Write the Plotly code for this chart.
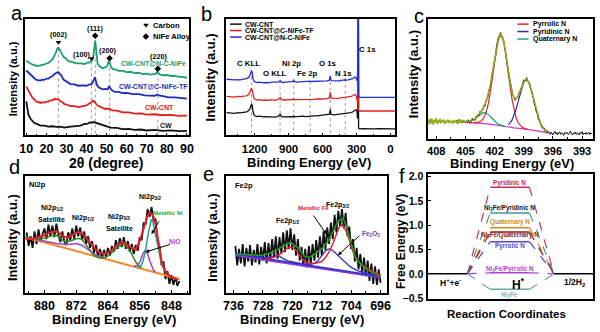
import plotly.graph_objects as go

W, H = 600, 332
FB = "Liberation Sans, Arial, sans-serif"

# ======================= DATA =======================
# (a) XRD, 2theta (deg) vs offset intensity (a.u.)
a_nc_x = [10,11,12,13,14,15,16,17,18,19,20,21,22,23,24,24.7,25.3,25.8,26.3,26.8,27.5,28.5,29.5,31,33,35,37,39,40.5,41.5,42.3,42.8,43.3,43.7,44,44.3,44.6,45,45.5,46.5,48,49.5,50.3,50.8,51.1,51.5,52,53,54.5,56,58,60,62,64,66,68,70,72,73.5,74.5,75.2,75.8,76.5,78,80,82,84,86,88,90]
a_nc_y = [230,226,223,218,217,214,215,215,218,218,222,223,229,234,246,254,266,270,268,261,254,242,238,229,226,222,222,220,224,224,230,232,241,260,285,292,277,240,220,213,207,210,214,224,229,225,214,204,203,199,199,195,196,192,193,189,190,187,188,190,196,192,188,185,186,183,183,180,180,177]
a_tf_x = [10,11,12,13,14,15,16,17,18,19,20,21,22,23,24,25,25.8,26.5,27.5,28.5,30,32,34,36,38,40,41.5,42.5,43.3,43.8,44.2,44.6,45.2,46,48,49.5,50.5,51,51.4,51.8,52.5,54,56,58,60,63,66,69,72,74,75.2,76,78,81,84,87,90]
a_tf_y = [200,194,188,179,176,171,171,169,172,171,175,175,180,182,189,192,195,191,184,172,166,158,157,153,154,153,157,158,166,175,179,169,155,148,142,143,142,149,151,145,140,134,134,130,131,127,127,123,123,122,126,123,121,117,117,114,113]
a_cnt_x = [10,11,12,13,14,15,16,17,18,19,20,21,22,23,24,25,26,27,28,29,30,32,34,36,38,40,41.5,42.5,43.2,43.8,44.5,45.5,47,49,51,53,55,58,61,64,67,70,74,78,82,86,90]
a_cnt_y = [150,139,128,116,111,104,103,100,102,101,104,104,108,108,112,111,111,105,102,96,95,90,90,87,90,92,99,102,107,105,99,92,88,82,82,77,76,71,71,67,68,64,65,62,63,60,61]
a_cw_x = [10,10.5,11,12,13,14,15,17,19,21,23,25,27,29,31,33,35,37,39,40.5,41.5,42.5,43.5,44.5,46,48,50,52,55,58,61,64,67,70,74,78,82,86,90]
a_cw_y = [105,80,65,52,44,38,36,30,30,27,28,26,27,24,26,27,30,30,35,36,40,39,41,39,37,31,29,24,23,19,20,17,18,15,17,14,15,13,14]
a_peak_pos = [26, 42.5, 44.3, 51.5, 75.5]
a_peak_top = [268, 228, 292, 228, 196]
a_carbon_x = [26, 42.5]
a_carbon_y = [287, 237]
a_alloy_x = [44.3, 51.5, 75.5]
a_alloy_y = [307, 238, 205]
a_hkl = ["(002)", "(100)", "(111)", "(200)", "(220)"]
a_hkl_x = [26, 37.7, 44.3, 50.5, 75.6]
a_hkl_y = [310, 248, 330, 261, 243]
a_names = ["CW-CNT@N-C-NiFe", "CW-CNT@C-NiFe-TF", "CW-CNT", "CW"]
a_name_x = [73.2, 73.5, 76.1, 79.4]
a_name_y = [220, 150, 85, 30]

# (b) XPS survey, binding energy (eV)
b_be = [1450,1425,1400,1375,1350,1325,1300,1270,1250,1235,1228,1222,1215,1205,1190,1175,1150,1125,1100,1075,1050,1025,1000,985,975,965,950,925,900,875,860,855,850,825,800,775,750,725,710,700,675,650,625,600,575,560,540,532,525,500,475,450,425,405,400,395,375,350,335,315,305,296,293,289,286.5,284.5,282,275,250,200,150,100,50,0,-45]
b_cnt = [70,69,70,68,70,69,71,72,77,87,97,93,75,63,59,58,59,57,58,57,58,56,58,60,65,59,57,58,57,58,57,60,57,58,57,59,58,59,60,59,60,60,61,61,62,62,65,80,65,63,64,64,65,66,68,66,68,70,72,77,79,74,52,62,500,500,22,20,21,20,20,21,20,20,20]
b_tf = [120,119,120,118,120,119,121,122,127,137,145,140,122,113,110,109,110,108,109,108,110,108,110,112,117,111,109,110,109,110,110,113,110,110,109,110,110,111,111,111,111,112,111,112,113,113,116,133,115,114,114,115,116,117,119,117,118,120,122,126,124,110,105,118,500,500,78,75,75,76,75,75,76,75,75]
b_nc = [173,172,173,171,172,171,173,175,180,190,200,195,175,167,164,163,164,162,163,162,164,163,164,165,169,165,163,164,164,164,166,172,166,164,165,164,165,166,167,166,166,167,166,167,168,168,170,183,169,168,169,168,170,170,174,170,171,173,175,180,177,168,172,230,500,500,120,117,117,118,117,117,118,117,117]
b_names = ["CW-CNT", "CW-CNT@C-NiFe-TF", "CW-CNT@N-C-NiFe"]
b_line_pos = [1228, 975, 855, 710, 532, 400]
b_line_top = [200, 169, 172, 167, 183, 174]
b_peaks = ["C KLL", "O KLL", "Ni 2p", "Fe 2p", "O 1s", "N 1s", "C 1s"]
b_peak_x = [1258, 1021, 873, 732, 549, 419, 202]
b_peak_y = [220, 190, 220, 190, 220, 190, 265]

# (c) N 1s high-resolution spectrum (0.1 eV steps)
c_fit_left = [58,44,63,47,60,42,57,50,64,45,56,49,61,46,55,52,58,45,54,50,59,47,56,51,53,46,57,50,55,48,58,51,54,47,56,52,57,49,53]
c_envelope = [50.8,51.0,51.5,52.1,52.9,54.0,55.1,56.6,58.4,61.7,64.5,67.4,70.8,74.5,78.4,82.8,87.4,92.6,98.4,104.9,112.3,121.0,131.2,143.1,156.7,172.2,189.3,207.8,227.3,246.6,265.4,282.8,297.5,309.6,317.4,320.9,319.7,313.7,305.4,290.0,273.2,254.0,233.5,212.9,192.6,173.9,157.5,144.0,133.5,126.4,122.9,122.4,125.0,130.2,136.9,144.7,153.6,162.2,169.4,176.1,179.9,182.1,182.4,179.6,174.0,166.6,157.7,146.8,135.4,123.0,109.4,97.3,85.2,74.6,64.5,55.4,47.8,41.2,36.1,31.6,28.1,25.4,23.2,21.4,20.0]
c_raw = [51,57,46,55,59,48,56,50,57,52,49,
         55,48,58,47,55,50,62,55,61,56,70,66,75,70,84,80,89,89,103,99,115,122,127,149,155,167,193,210,224,252,
         259,286,296,314,313,327,318,309,308,294,270,256,228,218,192,177,154,150,131,128,118,126,126,127,142,141,156,156,172,181,
         178,178,188,177,175,171,153,150,133,128,105,99,82,81,60,56,52,39,32,35,33,22,25,16,24,
         18,13,20,15,11,17,22,14,19,12,16,21,13,18,15,10,19,14,20,16,12,18,23,15,11,17,14,20,13,18,16,11,19,15,21,12,17,14,19,13,16,20,12,17,15,18]
c_fit = c_fit_left + c_envelope
c_fit_be = [round(408.8 - 0.1 * i, 1) for i in range(len(c_fit))]
c_raw_be = [round(406.0 - 0.1 * i, 1) for i in range(len(c_raw))]
c_bg_be = [405.5, 405, 404, 403, 402, 401, 400, 399, 398, 397, 396.5]
c_bg = [50.5, 50, 49, 46, 42, 37, 33, 30, 26, 20, 18]
c_pyrrolic_be = [404.2,404.0,403.8,403.6,403.4,403.2,403.0,402.8,402.6,402.4,402.2,402.0,401.8,401.6,401.4,401.2,401.0,400.8,400.6,400.4,400.2,400.0,399.8,399.6,399.4,399.2,399.0,398.8,398.6]
c_pyrrolic = [49.3,49.4,49.7,50.9,53.9,60.0,70.9,88.4,114.2,148.6,190.1,234.3,275.0,305.0,318.4,312.5,288.0,250.2,205.4,160.1,120.2,88.4,65.4,50.2,40.7,35.2,32.1,30.1,28.7]
c_pyridinic_be = [400.6,400.4,400.2,400.0,399.8,399.6,399.4,399.2,399.0,398.8,398.6,398.4,398.2,398.0,397.8,397.6,397.4,397.2,397.0,396.8,396.6]
c_pyridinic = [42.9,48.4,57.6,71.0,89.4,111.8,135.2,157.6,174.0,181.2,179.4,166.6,146.8,123.0,97.3,74.6,55.4,41.2,31.6,25.4,21.4]
c_quaternary_be = [404.6,404.4,404.2,404.0,403.8,403.6,403.4,403.2,403.0,402.8,402.6,402.4,402.2,402.0,401.8,401.6,401.4,401.2,401.0]
c_quaternary = [52.1,54.0,57.0,61.3,66.1,71.4,76.1,79.2,80.0,77.8,73.3,67.2,60.5,54.3,48.8,44.6,41.5,39.2,37.5]
c_names = ["Pyrrolic N", "Pyridinic N", "Quaternary N"]

# (d) Ni 2p (0.5 eV steps from 884.5 eV)
d_raw = [62,48,58,46,63,50,65,52,60,66,55,70,58,69,57,71,60,52,63,53,49,62,54,66,55,69,58,67,54,63,50,58,46,53,41,49,36,45,35,44,37,46,38,48,42,54,45,56,47,57,45,53,42,50,40,49,43,57,54,72,70,86,78,88,74,76,52,48,28,32,14,22,9,18,8,16,7,12]
d_raw_be = [round(884.5 - 0.5 * i, 1) for i in range(len(d_raw))]
d_env_be = [884.8,883,881.5,880,878.5,877.5,876.5,875,874,873,872,871,870,869,868,867,866,865,864,863,862,861,860.3,859.5,858.5,857.5,857,856.3,855.6,855,854.5,854,853.5,853,852.5,852,851.5,851,850.5,850,849.5,849,848,847,846.3]
d_env = [55,55.5,57,59,62,63,62,57.5,57,59,61.5,62,59,54,49,44,41,40,41,44,48,51,52,50,47,45,45,50,58,66,74,79,82,81,78,70,58,43,33,26,22,19,16,14,13]
d_bg_be = [884.8, 846]
d_bg = [57, 14]
d_nio1_be = [884.8,883,880,877,874,872,870.5,869.3,868,867,866,865]
d_nio1 = [57,55.5,53,50.5,49.5,50.5,48.5,45,40.5,38.5,37,35.8]
d_nio2_be = [857.5,856.5,855.8,855.2,854.6,854,853.5,853,852.5,852]
d_nio2 = [26.8,28,33,40,43.5,40,33,27.5,23,21]
d_sat_be = [884.8,882,880,878.5,877.5,876.5,875.5,874.5,873.5,872.5,871.5,870.5,869.5,868.5,867.5,866.5,865.5,864.5,863.5,862.5,861.5,860.5,860,859.3,858.5,857.8,857,856.3,855.5]
d_sat = [57,55,56,58.5,59.5,58,54,52,53.5,55,56,54.5,49,42.5,38,36,35.5,36.5,39,43,47,49.5,49.5,47.5,43.5,38,31.5,28,25.5]
d_ni_be = [856.5,855.8,855.2,854.6,854,853.5,853.1,852.7,852.2,851.7,851.2,850.9,850.5,850,849.2,848.4,847.5]
d_ni = [26,27,32,42,57,69,75,73,64,55,44,37,30,25,20,17,16]

# (e) Fe 2p (0.5 eV steps from 735.5 eV)
e_raw = [48,28,45,30,50,27,46,32,49,28,44,31,50,29,47,33,52,30,51,34,55,36,58,35,57,40,62,42,64,45,66,44,60,38,55,33,47,27,45,26,48,29,50,33,54,36,58,38,63,44,67,50,72,55,80,62,84,68,86,66,82,58,68,45,55,32,46,24,40,20,36,17,33,12,30,9,27,8,24,10]
e_raw_be = [round(735.5 - 0.5 * i, 1) for i in range(len(e_raw))]
e_env_be = [735.6,732,728.9,726.5,724.5,722.5,720.5,718.5,716.5,715,713.8,712,710.2,709,707.6,706.2,705.3,704.5,703.6,702.7,701,699.6,698,696]
e_env = [40,39,38.3,40,43.3,48,51.7,46,36.7,37,40,45,53.3,62,73.3,76.7,68,56.7,45,35,28,23.3,20,16.7]
e_fe_be = [727.5,726,724.5,723,722,721,720.3,719.5,718.5,717.5,716.5,715,713.5,712,711,710,709,708,707.3,706.5,705.7,705,704.3,703.5,702.7,701.8,700.5,699,697.5,696]
e_fe = [34.5,35,37,40.5,44,46.5,47,45.5,41,35.5,31.5,30,30.5,32,36,42,50,60,67,70,66,60,51,42,35,31,27,23.5,20.5,18]
e_ox_be = [735.6,730,727,725.5,724.5,723.5,722.5,721,719,717,715,714,713,712,711,710.2,709.3,708.5,707.5,706.5,705.5,704.5,703.5,702.2,700,698,696]
e_ox = [40,37,36,37,38.3,37.5,35,32.5,31,29.5,29,30,33,38.5,43,45,44,41.5,38,34.5,30.5,27.5,25,22.5,20.5,18,16.5]
e_bg_be = [735.6, 696]
e_bg1 = [40, 16.5]
e_bg2 = [38.5, 15.5]

# (f) Free-energy diagram (eV)
f_sites = ["Pyridinic N", "Ni<sub>3</sub>Fe/Pyridinic N", "Quaternary N", "Ni<sub>3</sub>Fe/Quaternary N",
           "Pyrrolic N", "Ni<sub>3</sub>Fe/Pyrrolic N", "Ni<sub>3</sub>Fe"]
f_dG = [1.78, 1.25, 0.95, 0.86, 0.66, 0.02, -0.32]

# ======================= STYLE =======================
f_line_col = ["#c8325a", "#3d9a9a", "#d08a2c", "#8b2214", "#5a44d0", "#b040d0", "#6aa8a8"]
f_text_col = ["#d02050", "#111111", "#d08a2c", "#8b2214", "#5a44d0", "#b040d0", "#7ab8b8"]
f_label_dy = [0.10, 0.11, 0.11, -0.07, -0.09, 0.07, -0.125]
f_x = [0, 2.38, 3.76, 6.14, 7.62, 10]   # reaction-coordinate geometry

fig = go.Figure()


def add_line(xs, ys, color, width, ax, dash=None):
    fig.add_trace(go.Scatter(x=xs, y=ys, mode="lines", xaxis="x" + ax, yaxis="y" + ax,
                             line=dict(color=color, width=width, dash=dash),
                             showlegend=False, hoverinfo="skip"))


def vlines(pos, top, ax):
    xs, ys = [], []
    for p, t in zip(pos, top):
        xs += [p, p, None]
        ys += [t, 0, None]
    add_line(xs, ys, "#9a9a9a", 1, ax, "dot")


# ---- (a)
vlines(a_peak_pos, a_peak_top, "")
add_line(a_cw_x, a_cw_y, "#111111", 1.8, "")
add_line(a_cnt_x, a_cnt_y, "#e3211c", 1.8, "")
add_line(a_tf_x, a_tf_y, "#1f2bbf", 1.8, "")
add_line(a_nc_x, a_nc_y, "#1f9e6e", 1.8, "")
fig.add_trace(go.Scatter(x=a_carbon_x + [69.6], y=a_carbon_y + [340], mode="markers", xaxis="x", yaxis="y",
                         marker=dict(symbol="triangle-down", size=5, color="black"), showlegend=False, hoverinfo="skip"))
fig.add_trace(go.Scatter(x=a_alloy_x + [69.6], y=a_alloy_y + [305], mode="markers", xaxis="x", yaxis="y",
                         marker=dict(symbol="diamond", size=5, color="black"), showlegend=False, hoverinfo="skip"))

# ---- (b)
vlines(b_line_pos, b_line_top, "2")
add_line(b_be, b_cnt, "#111111", 1.3, "2")
add_line(b_be, b_tf, "#e3211c", 1.3, "2")
add_line(b_be, b_nc, "#2330d0", 1.3, "2")

# ---- (c)
add_line(c_bg_be, c_bg, "#c43cc4", 1.2, "3")
add_line(c_quaternary_be, c_quaternary, "#1fa37a", 1.2, "3")
add_line(c_pyrrolic_be, c_pyrrolic, "#e8202a", 1.2, "3")
add_line(c_pyridinic_be, c_pyridinic, "#2b2bb0", 1.2, "3")
add_line(c_raw_be, c_raw, "#111111", 1, "3")
add_line(c_fit_be, c_fit, "#8fae1f", 1.5, "3")

# ---- (d)
add_line(d_raw_be, d_raw, "#111111", 1.8, "4")
add_line(d_bg_be, d_bg, "#f08a24", 2, "4")
add_line(d_nio1_be, d_nio1, "#a040d0", 1.5, "4")
add_line(d_nio2_be, d_nio2, "#a040d0", 1.5, "4")
add_line(d_sat_be, d_sat, "#2e8b22", 1.5, "4")
add_line(d_ni_be, d_ni, "#1aa38a", 1.5, "4")
add_line(d_env_be, d_env, "#e8202a", 2, "4")

# ---- (e)
add_line(e_raw_be, e_raw, "#111111", 1.8, "5")
add_line(e_bg_be, e_bg2, "#8a3cd0", 2, "5")
add_line(e_bg_be, e_bg1, "#3030c8", 1.5, "5")
add_line(e_ox_be, e_ox, "#3030c8", 1.3, "5")
add_line(e_fe_be, e_fe, "#e0203a", 1.5, "5")
add_line(e_env_be, e_env, "#22a022", 1.5, "5")

# ---- (f)
add_line([f_x[0], f_x[1]], [0, 0], "black", 1.5, "6")
add_line([f_x[4], f_x[5]], [0, 0], "black", 1.5, "6")
for g, col in zip(f_dG, f_line_col):
    add_line([f_x[1], f_x[2]], [0, g], col, 1.2, "6", "dash")
    add_line([f_x[3], f_x[4]], [g, 0], col, 1.2, "6", "dash")
    add_line([f_x[2], f_x[3]], [g, g], col, 1.5, "6")

# ======================= LAYOUT =======================


def tf(size):
    return dict(family=FB, size=size, color="black", weight="bold")


def xa(l, r, rng, tick0, dtick, mdtick, anchor, fsize=13, show=True, standoff=1):
    d = dict(domain=[l / W, r / W], range=rng, anchor=anchor, showline=True, mirror=True,
             linecolor="black", linewidth=1.5, showgrid=False, zeroline=False,
             ticks="inside" if show else "", ticklen=3, tickwidth=1, tickcolor="black",
             showticklabels=show, tickfont=tf(fsize), ticklabelstandoff=standoff)
    if show:
        d.update(tick0=tick0, dtick=dtick,
                 minor=dict(ticks="inside", ticklen=2, tickwidth=1, tickcolor="black", dtick=mdtick))
    return d


def ya(t, b, rng, anchor, show=False, fsize=11):
    d = dict(domain=[1 - b / H, 1 - t / H], range=rng, anchor=anchor, showline=True, mirror=True,
             linecolor="black", linewidth=1.5, showgrid=False, zeroline=False,
             ticks="inside" if show else "", ticklen=3, tickwidth=1, tickcolor="black",
             showticklabels=show, tickfont=tf(fsize), ticklabelstandoff=1)
    if show:
        d.update(tick0=0, dtick=0.5, tickformat=".1f")
    return d


ann = []


def T(text, x, y, size, color="black", xref="paper", yref="paper", xanchor="center",
      yanchor="middle", bold=True, angle=0):
    if xref == "paper":
        x = x / W
    if yref == "paper":
        y = 1 - y / H
    ann.append(dict(text=text, x=x, y=y, xref=xref, yref=yref, xanchor=xanchor, yanchor=yanchor,
                    showarrow=False, textangle=angle,
                    font=dict(family=FB, size=size, color=color, weight="bold" if bold else "normal")))


def arrow(x0, y0, x1, y1, ax):
    ann.append(dict(text="", x=x1, y=y1, ax=x0, ay=y0, xref="x" + ax, yref="y" + ax,
                    axref="x" + ax, ayref="y" + ax, showarrow=True, arrowhead=2, arrowsize=0.8,
                    arrowwidth=1, arrowcolor="black"))


# panel letters
for lab, x, y in [("a", 3, 9), ("b", 197, 10), ("c", 414, 12.5), ("d", 1, 168), ("e", 199, 174.5), ("f", 398, 177)]:
    T(lab, x, y, 20, xanchor="left", bold=False)

# axis titles
T("2\u03b8 (degree)", 102, 163, 14)
T("Intensity (a.u.)", 6.7, 76.7, 11, angle=-90)
T("Binding Energy (eV)", 308.3, 162.5, 13)
T("Intensity (a.u.)", 208.3, 75, 13, angle=-90)
T("Binding Energy (eV)", 515, 163.5, 13)
T("Intensity (a.u.)", 415, 71.7, 13, angle=-90)
T("Binding Energy (eV)", 110, 324, 13)
T("Intensity (a.u.)", 6.7, 240, 12.8, angle=-90)
T("Binding Energy (eV)", 301.7, 324, 13)
T("Intensity (a.u.)", 210, 240, 13, angle=-90)
T("Reaction Coordinates", 510, 318.3, 11.5)
T("Free Energy (eV)", 403, 244, 12, angle=-90)

# (a) labels
for t, x, y in zip(a_hkl, a_hkl_x, a_hkl_y):
    T(t, x, y, 7.2, xref="x", yref="y")
for t, x, y, c in zip(a_names, a_name_x, a_name_y, ["#1f9e6e", "#1f2bbf", "#e3211c", "#111111"]):
    T(t, x, y, 7, c, xref="x", yref="y")
T("Carbon", 72.3, 340, 7.6, xref="x", yref="y", xanchor="left")
T("NiFe Alloy", 72.3, 305, 7.6, xref="x", yref="y", xanchor="left")

# (b) labels + legend
for t, x, y in zip(b_peaks, b_peak_x, b_peak_y):
    T(t, x, y, 7.8, xref="x2", yref="y2")
shapes = []
for name, col, yy in zip(b_names, ["#111111", "#e3211c", "#2330d0"], [20.7, 27.3, 34]):
    shapes.append(dict(type="line", xref="paper", yref="paper", x0=228.3 / W, x1=240 / W,
                       y0=1 - yy / H, y1=1 - yy / H, line=dict(color=col, width=1.5)))
    T(name, 241.7, yy, 7, xanchor="left")
# (c) legend
for name, col, yy in zip(c_names, ["#e8202a", "#2b2bb0", "#1fa37a"], [20.7, 28.3, 36]):
    shapes.append(dict(type="line", xref="paper", yref="paper", x0=521 / W, x1=532.3 / W,
                       y0=1 - yy / H, y1=1 - yy / H, line=dict(color=col, width=1.5)))
    T(name, 535, yy, 7, xanchor="left")

# (d) labels
T("Ni2p", 21.5, 186, 7.5, xanchor="left")
T("Ni2p<sub>1/2</sub>", 878.2, 87.5, 7, xref="x4", yref="y4")
T("Satellite", 878.2, 75, 7, xref="x4", yref="y4")
T("Ni2p<sub>1/2</sub>", 870.3, 76.7, 7, xref="x4", yref="y4")
T("Ni2p<sub>3/2</sub>", 861.2, 77.5, 7, xref="x4", yref="y4")
T("Satellite", 861.2, 65.7, 7, xref="x4", yref="y4")
T("Ni2p<sub>3/2</sub>", 853.3, 98.7, 7, xref="x4", yref="y4")
T("Metallic Ni", 848.8, 81.7, 6, "#22aa22", xref="x4", yref="y4")
T("NiO", 847.1, 52.7, 6.5, "#b040e0", xref="x4", yref="y4")
arrow(850.9, 75, 853.0, 60, "4")
arrow(848.0, 50, 854.6, 41.7, "4")

# (e) labels
T("Fe2p", 231, 186.5, 7.5, xanchor="left")
T("Fe2p<sub>1/2</sub>", 721.3, 73.4, 7, xref="x5", yref="y5")
T("Metallic Fe", 714.2, 86.7, 6, "#e02040", xref="x5", yref="y5")
T("Fe2p<sub>3/2</sub>", 707.6, 90, 7, xref="x5", yref="y5")
T("Fe<sub>2</sub>O<sub>3</sub>", 698.7, 60.7, 6.5, "#6040d0", xref="x5", yref="y5")
arrow(714.5, 80.7, 710.7, 60, "5")
arrow(701.3, 60, 707.6, 38.4, "5")

# (f) labels
xc = (f_x[2] + f_x[3]) / 2
for s, g, dy, c in zip(f_sites, f_dG, f_label_dy, f_text_col):
    T(s, xc, g + dy, 6.3, c, xref="x6", yref="y6")
T("H<sup>+</sup>+e<sup>-</sup>", 1.38, -0.17, 8.5, xref="x6", yref="y6")
T("1/2H<sub>2</sub>", 8.91, -0.18, 8.5, xref="x6", yref="y6")
T("H<sup>*</sup>", 5.5, -0.2, 12, xref="x6", yref="y6")

fig.update_layout(
    width=W, height=H, margin=dict(l=0, r=0, t=0, b=0),
    paper_bgcolor="white", plot_bgcolor="white", showlegend=False,
    xaxis=xa(19.3, 186.7, [9.32, 91.17], 10, 10, 5, "y", fsize=12.5, standoff=1),
    yaxis=ya(15, 135, [0, 360], "x"),
    xaxis2=xa(224.3, 396.7, [1451, -43], 0, 300, 150, "y2", fsize=11.5, standoff=2),
    yaxis2=ya(15, 135, [0, 360], "x2"),
    xaxis3=xa(430, 597.7, [408.84, 391.9], 393, 3, 1.5, "y3", fsize=11, standoff=1),
    yaxis3=ya(15, 138.3, [0, 370], "x3"),
    xaxis4=xa(19, 186.7, [885, 843.5], 848, 8, 4, "y4", fsize=12.5, standoff=1),
    yaxis4=ya(176.7, 296.7, [0, 120], "x4"),
    xaxis5=xa(224.3, 388.3, [738, 694.2], 696, 8, 4, "y5", fsize=12.5, standoff=1),
    yaxis5=ya(176.7, 296.7, [0, 120], "x5"),
    xaxis6=xa(430, 598.3, [0, 10], 0, 1, 1, "y6", show=False),
    yaxis6=ya(175, 303.3, [-0.52, 2.05], "x6", show=True, fsize=10.5),
    annotations=ann, shapes=shapes,
)

fig.write_html("out.html")
